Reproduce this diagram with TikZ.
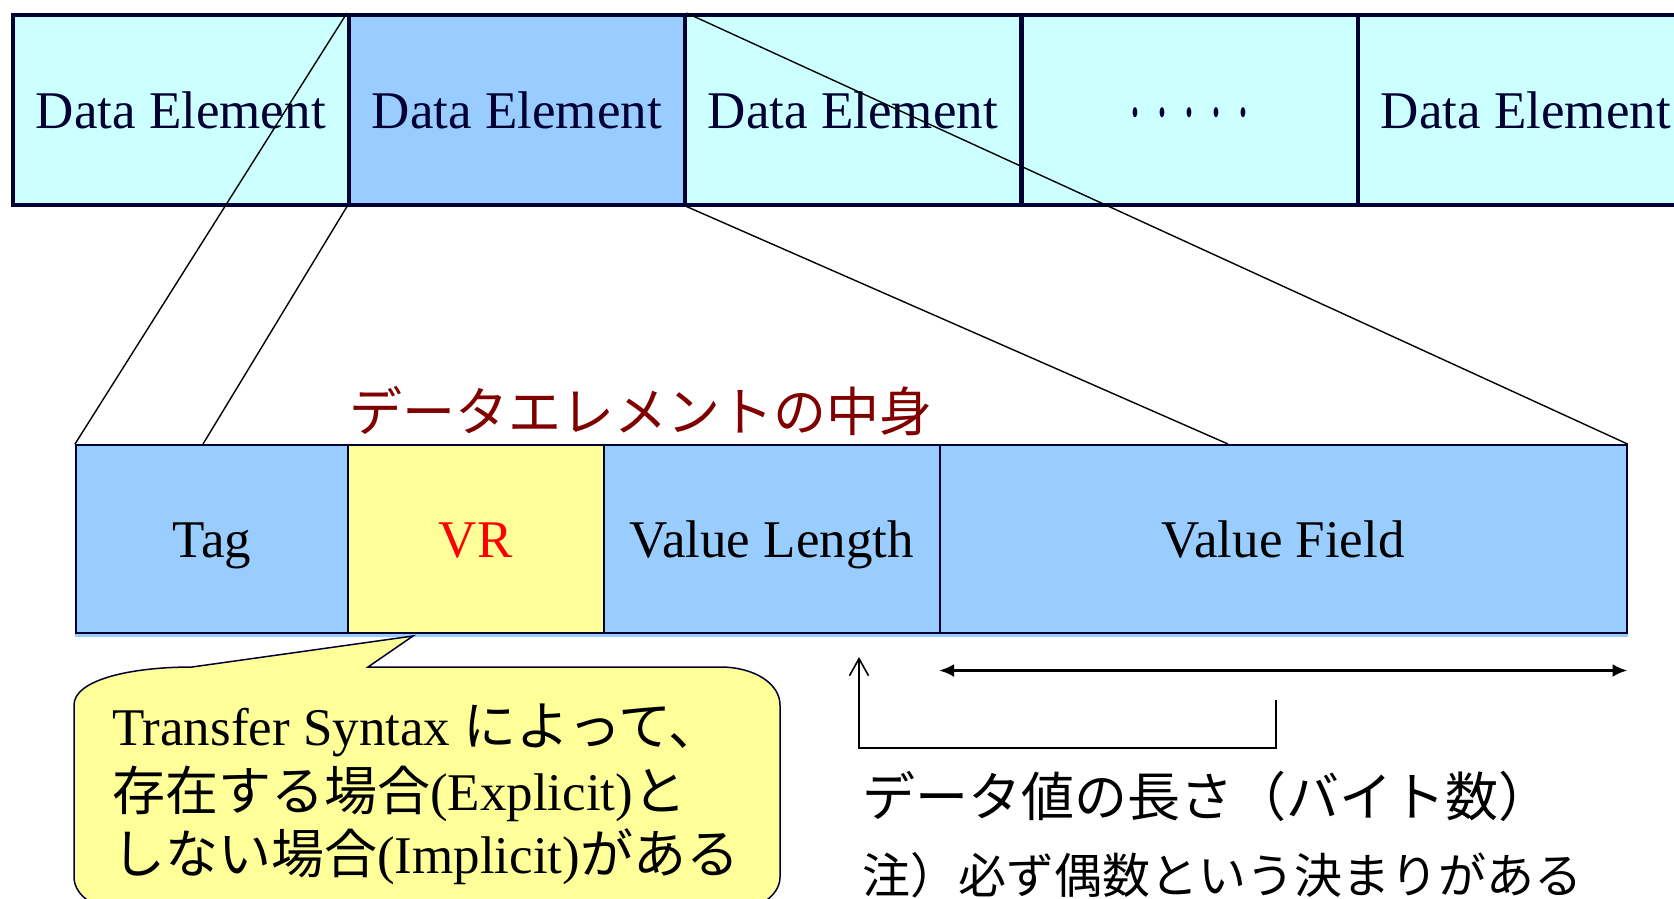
\documentclass[tikz,border=0pt]{standalone}
\usepackage{fontspec}
\setmainfont{Liberation Serif}
\newfontfamily\jp{Noto Sans CJK JP}
\usetikzlibrary{arrows.meta}
\definecolor{navy}{HTML}{000033}
\definecolor{paleCyan}{HTML}{CCFFFF}
\definecolor{skyBlue}{HTML}{99CCFF}
\definecolor{paleYellow}{HTML}{FFFF99}
\definecolor{darkRed}{HTML}{800000}
\newcommand{\elldot}{\raisebox{12pt}{\scalebox{0.75}[1.6]{.}}}
\begin{document}
\begin{tikzpicture}[x=1pt,y=-1pt,
  bigfont/.style={font=\fontsize{53}{60}\selectfont},
  topcell/.style={draw=navy, line width=3.5pt, fill=paleCyan, text=navy,
    minimum width=336pt, minimum height=190pt, inner sep=0pt,
    text height=38pt, text depth=0pt, anchor=north west, bigfont},
  fieldcell/.style={draw=navy, line width=1.5pt, fill=skyBlue,
    minimum height=188pt, inner sep=0pt,
    text height=38pt, text depth=0pt, anchor=north west, bigfont},
  zoomline/.style={black, line width=1.4pt},
  bubbletext/.style={anchor=base west, inner sep=0pt, bigfont},
  jptext/.style={anchor=west, inner sep=0pt},
]
\useasboundingbox (0,0) rectangle (1674,898);

% stream of data elements
\node[topcell] (de1) at (11,13) {Data Element};
\node[topcell, fill=skyBlue] (de2) at (347,13) {Data Element};
\node[topcell] (de3) at (683,13) {Data Element};
\node[topcell] (dots) at (1020,13)
  {\elldot\hspace{17pt}\elldot\hspace{17pt}\elldot\hspace{17pt}\elldot\hspace{17pt}\elldot};
\node[topcell] (de5) at (1356,13) {Data Element};

% fields of one data element
\fill[skyBlue] (75,630) rectangle (1628,637);
\node[fieldcell, minimum width=272pt] (tag) at (75,444) {Tag};
\node[fieldcell, minimum width=256pt, fill=paleYellow, text=red] (vr) at (347,444) {VR};
\node[fieldcell, minimum width=336pt] (vl) at (603,444) {Value Length};
\node[fieldcell, minimum width=687pt] (vf) at (939,444) {Value Field};

\node[jptext, text=darkRed, font=\jp\fontsize{53}{60}\selectfont] (title) at (349,411) {データエレメントの中身};

% expansion lines
\coordinate (tagIn) at (203,444);
\coordinate (vfIn) at (1228,444);
\draw[zoomline] (de2.north west) -- (tag.north west);
\draw[zoomline] (de2.south west) -- (tagIn);
\draw[zoomline] (de2.north east) -- (vf.north east);
\draw[zoomline] (de2.south east) -- (vfIn);

% callout for VR
\draw[fill=paleYellow, draw=navy, line width=1.5pt]
  (192,667) -- (413,636) -- (368,667) -- (720,667)
  .. controls (755,667) and (780,684) .. (780,705) -- (780,877)
  .. controls (780,897) and (755,913) .. (720,913) -- (134,913)
  .. controls (99,913) and (74,897) .. (74,877) -- (74,705)
  .. controls (74,680) and (130,667) .. (192,667) -- cycle;
\node[bubbletext] (b1) at (112,745) {Transfer Syntax {\jp によって、}};
\node[bubbletext] (b2) at (112,810) {{\jp 存在する場合}(Explicit){\jp と}};
\node[bubbletext] (b3) at (112,873) {{\jp しない場合}(Implicit){\jp がある}};

% value length pointer and value field span
\coordinate (lenTip) at (859,657);
\coordinate (lenFoot) at (859,748);
\coordinate (lenEnd) at (1276,748);
\coordinate (lenTop) at (1276,700);
\draw[black, line width=1.6pt, -{Straight Barb[length=17pt,width=19pt]}]
  (lenTop) -- (lenEnd) -- (lenFoot) -- (lenTip);
\path (vf.south west) ++(0,37) coordinate (spanL);
\path (vf.south east) ++(0,37) coordinate (spanR);
\draw[black, line width=3pt, {Latex[length=15pt,width=13pt]}-{Latex[length=15pt,width=13pt]}]
  (spanL) -- (spanR);

\node[jptext, font=\jp\fontsize{53}{60}\selectfont] (lenlabel) at (862,796) {データ値の長さ（バイト数）};
\node[jptext, font=\jp\fontsize{48}{56}\selectfont] (note) at (862,875) {注）必ず偶数という決まりがある};
\end{tikzpicture}
\end{document}
